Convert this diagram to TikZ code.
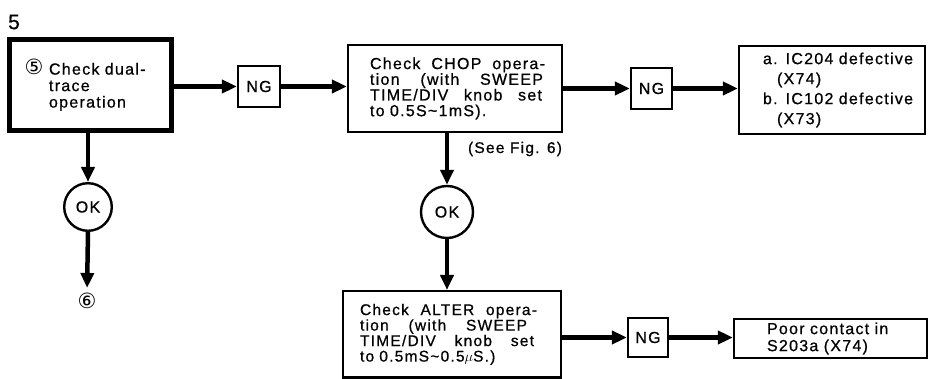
\documentclass[tikz,border=0pt]{standalone}
\usepackage{fontspec}
\setmainfont{Liberation Sans}[LetterSpace=8,FakeBold=0.7]
\newfontfamily\symf{DejaVu Sans}
\usetikzlibrary{arrows.meta}
\newcommand{\jline}[2]{\hbox to #1{#2}}
\begin{document}
\begin{tikzpicture}[x=1pt,y=-1pt,
  conn/.style={line width=4.5pt,-{Triangle[length=15pt,width=13pt]}},
  bigbox/.style={draw,line width=5pt,inner sep=0pt,align=left},
  tbox/.style={draw,line width=2.2pt,inner sep=0pt,align=left},
  ngbox/.style={draw,line width=2.2pt,inner sep=0pt,minimum width=42pt,minimum height=41pt,font=\fontsize{16}{17}\selectfont},
  okc/.style={draw,circle,line width=2.4pt,inner sep=0pt,font=\fontsize{16}{17}\selectfont},
  txt/.style={inner sep=0pt}]
\useasboundingbox[fill=white] (0,0) rectangle (930,379);

\node[txt,font=\fontsize{21}{22}\selectfont] (five) at (14,22) {5};

\node[bigbox,minimum width=162pt,minimum height=91pt,text width=162pt,
      font=\fontsize{16}{16.5}\selectfont] (b1) at (90.5,85)
  {\hspace*{15pt}\makebox[24.5pt][l]{\symf\fontsize{21}{16}\selectfont ⑤}Check dual-\\
   \hspace*{39.5pt}trace\\
   \hspace*{39.5pt}operation};

\node[ngbox] (ng1) at (259,86.5) {NG};

\node[tbox,minimum width=214pt,minimum height=87pt,text width=214pt,
      font=\fontsize{16}{15.7}\selectfont] (b2) at (455,88.5)
  {\hspace*{22pt}\jline{175pt}{Check\hfil CHOP\hfil opera-}\\
   \hspace*{22pt}\jline{173pt}{tion\hfil (with\hfil SWEEP}\\
   \hspace*{22pt}\jline{172pt}{TIME/DIV\hfil knob\hfil set}\\
   \hspace*{22pt}to 0.5S\textasciitilde 1mS).};

\node[txt,font=\fontsize{15.5}{16}\selectfont] (see) at (515,149) {(See Fig. 6)};

\node[ngbox,minimum width=41pt] (ng2) at (651.5,88.5) {NG};

\node[tbox,minimum width=186pt,minimum height=88pt,text width=186pt,
      font=\fontsize{16}{20}\selectfont] (b3) at (832,90)
  {\hspace*{24pt}a. IC204 defective\\
   \hspace*{38pt}(X74)\\
   \hspace*{24pt}b. IC102 defective\\
   \hspace*{38pt}(X73)};

\node[okc,minimum size=47.6pt] (ok1) at (88,207) {OK};
\node[txt,font=\symf\fontsize{21}{21}\selectfont] (six) at (87,301) {⑥};

\node[okc,minimum size=52pt] (ok2) at (447,212) {OK};

\node[tbox,minimum width=218pt,minimum height=86.4pt,text width=218pt,
      font=\fontsize{15.5}{15.5}\selectfont] (b4) at (452,334.3)
  {\hspace*{17pt}\jline{177pt}{Check\hfil ALTER\hfil opera-}\\
   \hspace*{17pt}\jline{167pt}{tion\hfil (with\hfil SWEEP}\\
   \hspace*{17pt}\jline{174pt}{TIME/DIV\hfil knob\hfil set}\\
   \hspace*{17pt}to 0.5mS\textasciitilde 0.5$\mu$S.)};

\node[ngbox,minimum width=40pt,minimum height=39pt] (ng3) at (648,337.5) {NG};

\node[tbox,minimum width=193pt,minimum height=39pt,text width=193pt,
      font=\fontsize{16}{17}\selectfont] (b5) at (830.5,338.5)
  {\hspace*{33pt}Poor contact in\\
   \hspace*{33pt}S203a (X74)};

\draw[conn] (b1.east |- ng1.west) -- (ng1.west);
\draw[conn] (ng1.east) -- (ng1.east -| b2.west);
\draw[conn] (b2.east |- ng2.west) -- (ng2.west);
\draw[conn] (ng2.east) -- (ng2.east -| b3.west);
\draw[conn] (b1.south -| ok1.north) -- (ok1.north);
\draw[conn,shorten >=5pt] (ok1.south) -- (six.north);
\draw[conn] (b2.south -| ok2.north) -- (ok2.north);
\draw[conn] (ok2.south) -- (ok2.south |- b4.north);
\draw[conn] (b4.east |- ng3.west) -- (ng3.west);
\draw[conn] (ng3.east) -- (ng3.east -| b5.west);
\end{tikzpicture}
\end{document}
